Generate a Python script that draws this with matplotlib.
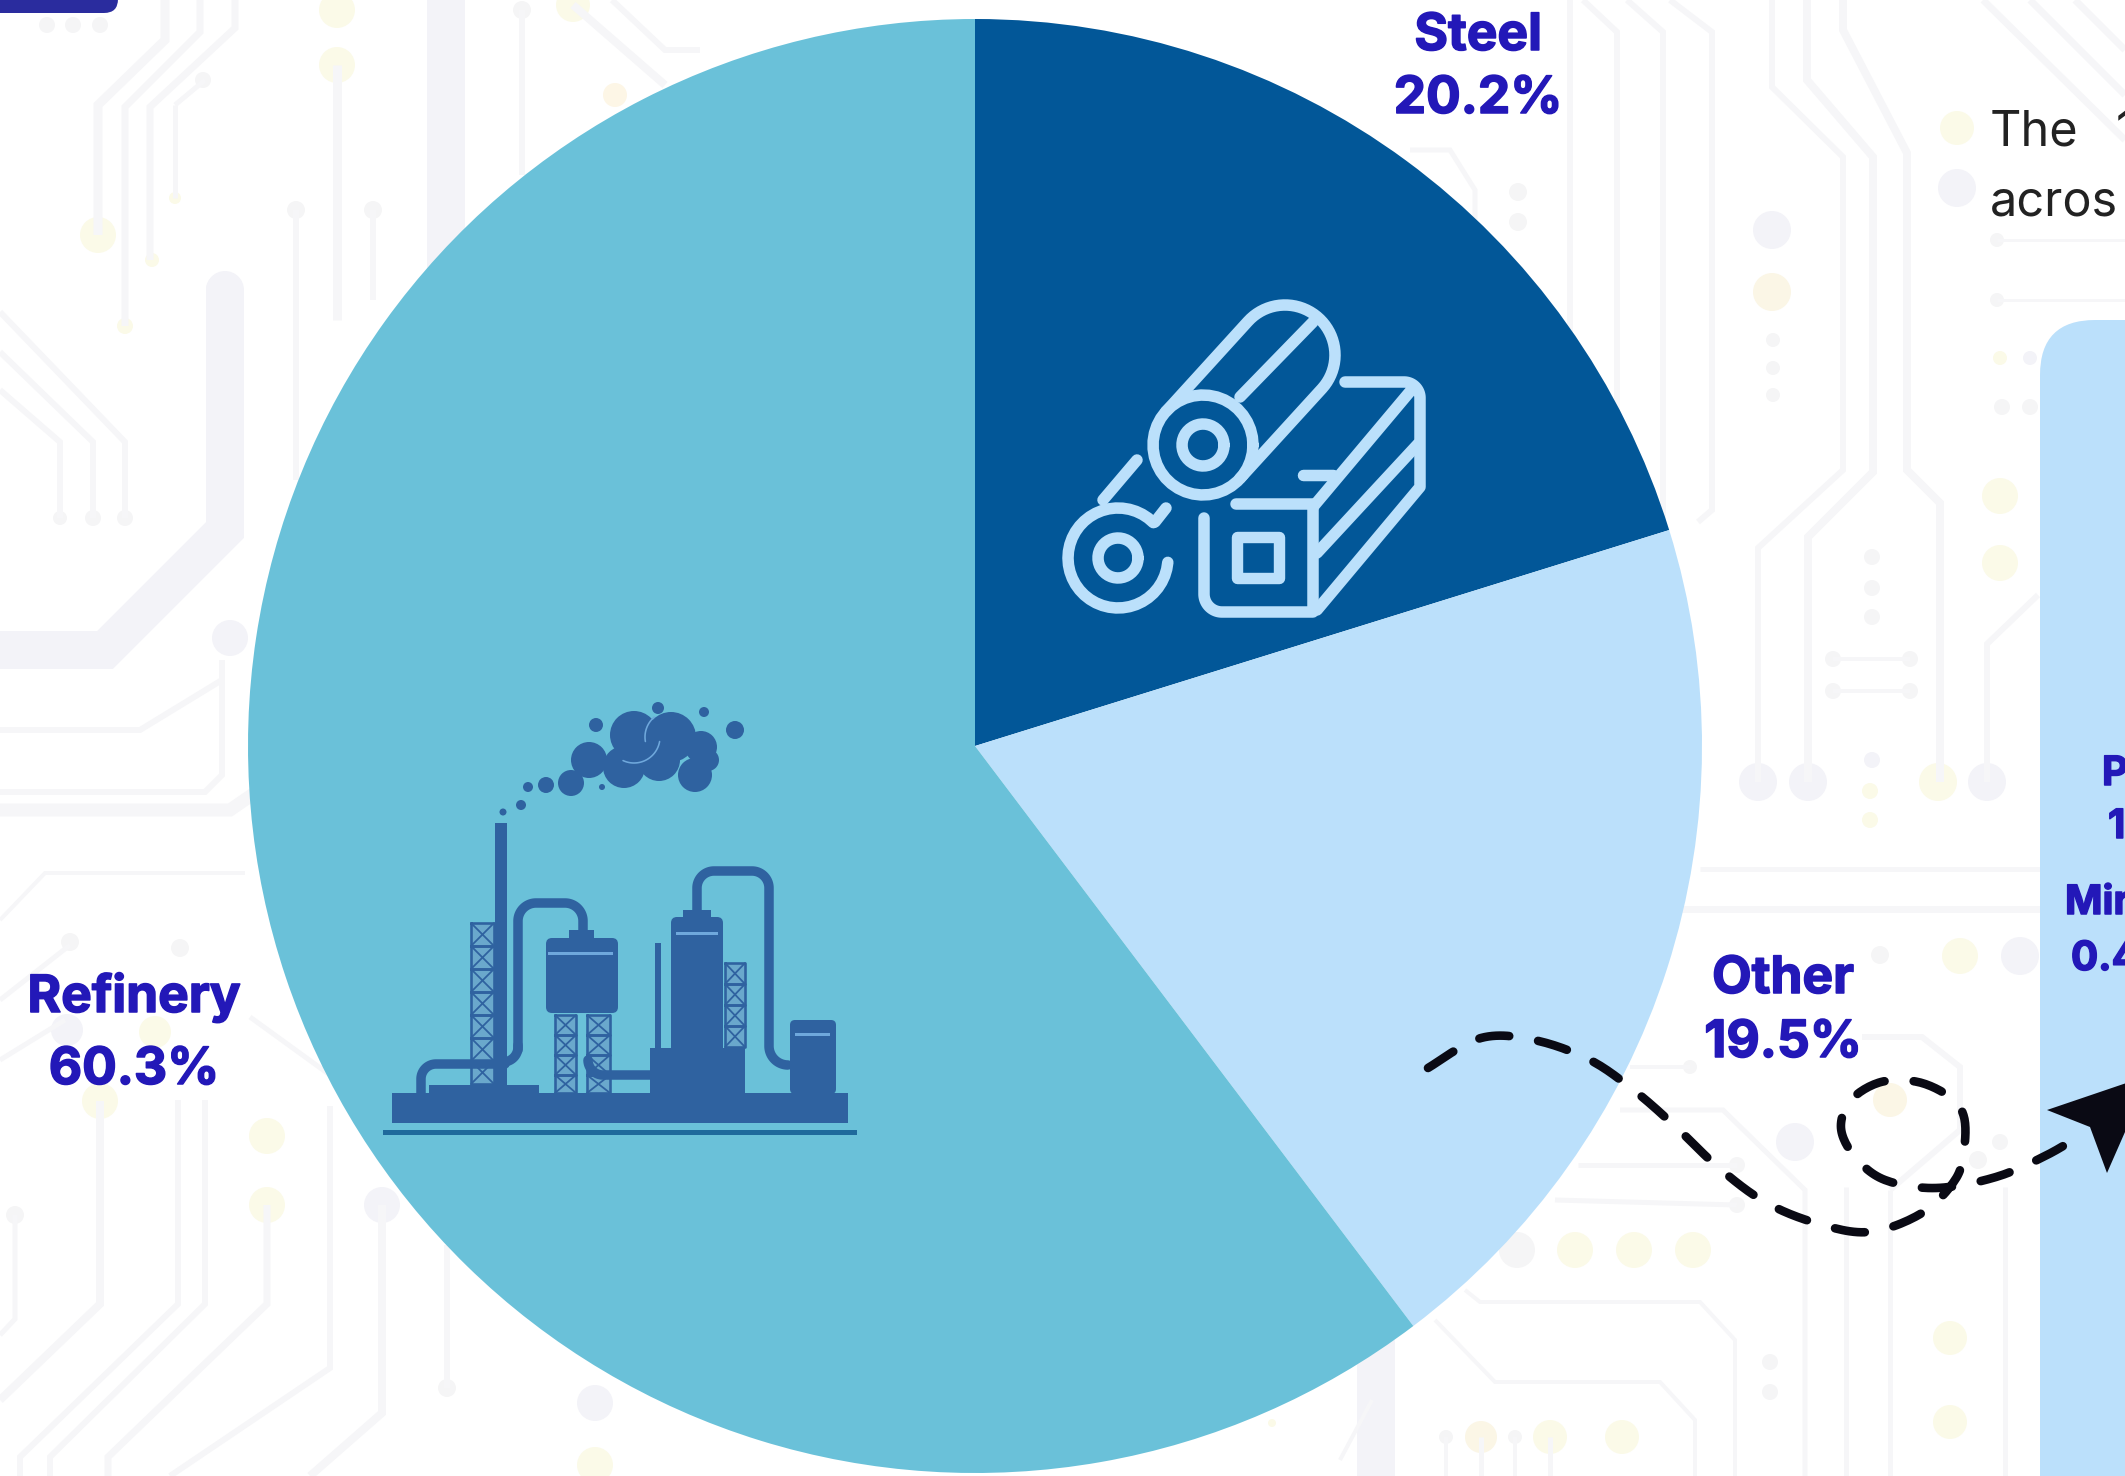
import numpy as np
import matplotlib
matplotlib.use("Agg")
import matplotlib.pyplot as plt
import matplotlib.patheffects as pe
from matplotlib.patches import Rectangle, Circle, FancyBboxPatch, Polygon

# Sector shares, clockwise from twelve o'clock
sectors = ["Steel", "Other", "Refinery"]
shares = [20.2, 19.5, 60.3]
sector_colors = ["#025798", "#BBE0FB", "#6AC1D9"]

W, H = 2125, 1476
CX, CY, R = 975, 746, 727

TRACE = "#F6F6F8"
LAV = "#F3F3F8"
YEL = "#FBFAE8"
GRY = "#F5F5F6"
LABEL = "#2318B8"
ICON_LIGHT = "#BBE0FB"
ICON_DARK = "#2F62A0"

fig = plt.figure(figsize=(W / 100, H / 100), dpi=100, facecolor="white")

bg = fig.add_axes([0, 0, 1, 1], zorder=0)
bg.set_xlim(0, W)
bg.set_ylim(H, 0)
bg.axis("off")

# Circuit-board backdrop: (width, points) polylines
traces = [
    (38, [(225, 290), (225, 530), (105, 650), (0, 650)]),
    (38, [(446, 0), (446, 300)]),
    (38, [(1376, 1340), (1376, 1476)]),
    (9, [(165, 0), (165, 40), (98, 105), (98, 235)]),
    (7, [(200, 0), (200, 32), (125, 107), (125, 326)]),
    (7, [(235, 0), (235, 28), (150, 107), (150, 260)]),
    (5, [(175, 105), (175, 198), ]),
    (5, [(175, 105), (205, 80)]),
    (6, [(0, 312), (125, 442), (125, 518)]),
    (6, [(0, 352), (93, 442), (93, 518)]),
    (6, [(0, 390), (60, 442), (60, 518)]),
    (6, [(296, 210), (296, 480)]),
    (9, [(337, 65), (337, 320)]),
    (6, [(373, 210), (373, 300)]),
    (6, [(522, 10), (522, 175)]),
    (8, [(573, 5), (665, 85)]),
    (6, [(612, 0), (665, 50), (700, 50)]),
    (6, [(0, 730), (140, 730), (222, 680)]),
    (6, [(0, 792), (205, 792), (222, 775), (222, 660)]),
    (13, [(0, 810), (230, 810), (262, 788)]),
    (4, [(0, 920), (45, 873), (245, 873)]),
    (5, [(0, 1000), (70, 945)]),
    (5, [(0, 1060), (65, 1020)]),
    (5, [(250, 1017), (330, 1075)]),
    (8, [(100, 1101), (100, 1304), (0, 1400)]),
    (6, [(178, 1100), (178, 1304), (20, 1457), (20, 1476)]),
    (6, [(205, 1100), (205, 1304), (50, 1457), (50, 1476)]),
    (7, [(267, 1205), (267, 1304), (108, 1457), (108, 1476)]),
    (6, [(330, 1106), (330, 1368), (170, 1476)]),
    (8, [(382, 1205), (382, 1413), (310, 1476)]),
    (5, [(15, 1215), (15, 1319), (0, 1335)]),
    (6, [(447, 1245), (447, 1388)]),
    (6, [(1570, 0), (1570, 400)]),
    (6, [(1583, 0), (1617, 32), (1617, 420)]),
    (6, [(1627, 0), (1663, 32), (1663, 520)]),
    (6, [(1670, 0), (1712, 32), (1712, 510), (1698, 522)]),
    (6, [(1772, 0), (1772, 87), (1843, 157), (1843, 470), (1758, 548), (1758, 782)]),
    (8, [(1807, 0), (1807, 80), (1873, 157), (1873, 472), (1808, 537), (1808, 782)]),
    (8, [(1843, 0), (1843, 30), (1907, 153), (1907, 470), (1940, 503), (1940, 782)]),
    (6, [(2038, 595), (1987, 644), (1987, 782)]),
    (4, [(1833, 659), (1910, 659)]),
    (4, [(1833, 691), (1910, 691)]),
    (5, [(1700, 869), (2040, 869)]),
    (7, [(1680, 909), (2040, 909)]),
    (3, [(1997, 240), (2125, 240)]),
    (3, [(1997, 300), (2125, 300)]),
    (7, [(1983, 0), (2125, 140)]),
    (7, [(2030, 0), (2125, 95)]),
    (7, [(2075, 0), (2125, 50)]),
    (4, [(1630, 1067), (1690, 1067)]),
    (5, [(1620, 1110), (1723, 1110), (1805, 1190), (1805, 1476)]),
    (5, [(1578, 1165), (1737, 1165)]),
    (5, [(1555, 1200), (1737, 1205)]),
    (5, [(1846, 1187), (1846, 1476)]),
    (5, [(1890, 1190), (1890, 1476)]),
    (5, [(2005, 1187), (2005, 1476)]),
    (6, [(1862, 1037), (1922, 1037), (1960, 1067), (1960, 1130), (1890, 1190)]),
    (4, [(1465, 1290), (1480, 1302), (1700, 1302), (1735, 1340), (1735, 1476)]),
    (4, [(1435, 1320), (1495, 1382), (1660, 1382), (1695, 1420), (1695, 1476)]),
    (5, [(1481, 1437), (1481, 1476)]),
    (5, [(1550, 1437), (1550, 1476)]),
    (4, [(1446, 1437), (1446, 1476)]),
    (4, [(1515, 1437), (1515, 1476)]),
    (5, [(1410, 150), (1450, 150), (1475, 190), (1475, 250)]),
    (4, [(1372, 1400), (1340, 1460)]),
]
for lw, pts in traces:
    xs, ys = zip(*pts)
    bg.plot(xs, ys, color=LAV if lw > 20 else TRACE, lw=lw * 0.72,
            solid_joinstyle="miter", solid_capstyle="butt")

pads = [
    (98, 235, 18, YEL), (125, 326, 8, YEL), (152, 260, 7, YEL), (175, 198, 6, YEL),
    (225, 290, 19, LAV), (226, 292, 7, YEL), (230, 638, 18, LAV), (203, 80, 8, GRY), (47, 25, 8, GRY),
    (73, 25, 8, GRY), (100, 25, 8, GRY), (60, 518, 7, GRY), (93, 518, 8, GRY),
    (125, 518, 8, GRY), (337, 10, 18, YEL), (337, 65, 18, YEL), (296, 210, 9, GRY),
    (373, 210, 9, GRY), (222, 290, 16, LAV), (522, 10, 9, GRY), (573, 5, 17, YEL),
    (615, 95, 12, "#FDF6E6"),
    (70, 942, 9, GRY), (180, 948, 9, GRY), (155, 1032, 16, YEL), (67, 1030, 16, LAV),
    (100, 1101, 18, YEL), (267, 1136, 18, YEL), (267, 1205, 18, YEL), (382, 1205, 18, LAV),
    (15, 1215, 9, GRY), (447, 1388, 9, GRY), (595, 1403, 18, LAV), (595, 1465, 18, YEL),
    (1518, 192, 9, GRY), (1518, 222, 9, GRY), (1772, 230, 19, LAV), (1772, 292, 19, "#FBF6E6"),
    (1773, 340, 7, GRY), (1773, 368, 7, GRY), (1773, 395, 7, GRY),
    (1872, 557, 8, GRY), (1872, 588, 8, GRY), (1872, 617, 8, GRY),
    (1833, 659, 8, GRY), (1910, 659, 8, GRY), (1833, 691, 8, GRY), (1910, 691, 8, GRY),
    (1872, 760, 8, LAV), (1870, 791, 8, YEL), (1870, 820, 8, YEL),
    (1758, 782, 19, LAV), (1808, 782, 19, LAV), (1938, 782, 19, YEL), (1987, 782, 19, LAV),
    (2000, 496, 18, YEL), (2000, 563, 18, YEL), (2000, 358, 7, YEL), (2030, 358, 7, LAV),
    (2002, 407, 8, GRY), (2030, 407, 8, GRY), (1957, 128, 17, YEL), (1957, 188, 19, LAV),
    (1997, 240, 7, GRY), (1997, 300, 7, GRY), (1880, 955, 9, GRY), (1960, 956, 18, YEL),
    (2020, 956, 19, LAV), (1795, 1142, 19, LAV), (1890, 1100, 17, "#FBF6E6"), (2000, 1142, 8, GRY),
    (1978, 1160, 9, GRY), (1737, 1165, 8, GRY), (1737, 1205, 8, GRY), (1690, 1067, 7, GRY),
    (1517, 1250, 18, GRY), (1575, 1250, 18, YEL), (1634, 1250, 18, YEL), (1693, 1250, 18, YEL),
    (1770, 1362, 8, GRY), (1770, 1392, 8, GRY), (1950, 1338, 17, YEL), (1950, 1422, 17, YEL),
    (1446, 1437, 7, GRY), (1481, 1437, 16, "#FBF6E6"), (1515, 1437, 7, GRY), (1550, 1437, 17, YEL),
    (1622, 1437, 17, YEL), (1272, 1423, 4, YEL),
]
for x, y, r, c in pads:
    bg.add_patch(Circle((x, y), r, color=c, lw=0))

# Side panel running off the right edge and the dark tab in the corner
bg.add_patch(FancyBboxPatch((2040, 320), 300, 1400, boxstyle="round,pad=0,rounding_size=55",
                            fc="#BBE0FB", ec="none", zorder=3))
bg.add_patch(FancyBboxPatch((-60, -60), 178, 73, boxstyle="round,pad=0,rounding_size=14",
                            fc="#2A2C9E", ec="none", zorder=3))

# The pie itself
pie_ax = fig.add_axes([(CX - R) / W, (H - CY - R) / H, 2 * R / W, 2 * R / H], zorder=1)
pie_ax.pie(shares, colors=sector_colors, startangle=90, counterclock=False, radius=1,
           wedgeprops={"linewidth": 0})
pie_ax.set_xlim(-1, 1)
pie_ax.set_ylim(-1, 1)

ov = fig.add_axes([0, 0, 1, 1], zorder=2)
ov.set_xlim(0, W)
ov.set_ylim(H, 0)
ov.axis("off")
ov.patch.set_alpha(0)


def arc_pts(cx, cy, r, a0, a1, n=40):
    t = np.radians(np.linspace(a0, a1, n))
    return np.c_[cx + r * np.cos(t), cy + r * np.sin(t)]


def stroke(pts, color=ICON_LIGHT, width=11.5, cap="round", zorder=5):
    pts = np.asarray(pts, dtype=float)
    ov.plot(pts[:, 0], pts[:, 1], color=color, lw=width * 0.72, solid_capstyle=cap,
            solid_joinstyle="round", zorder=zorder)


# Steel rolls and billet icon
stroke(arc_pts(1203, 445, 50, 0, 360))
stroke(arc_pts(1203, 445, 21, 0, 360))
far = (1285, 355)
stroke(np.vstack([[(1166, 411.5)], arc_pts(far[0], far[1], 50, -138, 42), [(1240, 478.5)]]))
stroke([(1240, 397), (1313, 322)])
stroke(arc_pts(1118, 558, 50, 5, 315))
stroke(arc_pts(1118, 558, 20, 0, 360))
stroke([(1137, 460), (1103, 500)])
stroke([(1155, 522), (1166, 508)])
stroke(np.vstack([[(1204, 518)], arc_pts(1222, 594, 18, 180, 90), [(1313, 612), (1313, 504), (1236, 504)]]))
ov.add_patch(Rectangle((1237, 537), 42, 41, fc="none", ec=ICON_LIGHT, lw=8.2, joinstyle="round", zorder=5))
stroke(np.vstack([[(1317, 610), (1420, 487), (1420, 398)], arc_pts(1404, 398, 16, 0, -90), [(1345, 382)]]))
stroke([(1313, 507), (1413, 388)])
stroke([(1317, 553), (1418, 444)])
stroke([(1303, 475), (1333, 475)])

# Refinery silhouette
def block(x0, y0, x1, y1, color=ICON_DARK, zorder=5):
    ov.add_patch(Rectangle((x0, y0), x1 - x0, y1 - y0, fc=color, ec="none", zorder=zorder))


def rounded(x0, y0, x1, y1, rad):
    ov.add_patch(FancyBboxPatch((x0, y0), x1 - x0, y1 - y0,
                                boxstyle=f"round,pad=0,rounding_size={rad}",
                                fc=ICON_DARK, ec="none", zorder=5))


def lattice(x0, y0, x1, y1, cell):
    y = y0
    ov.add_patch(Rectangle((x0, y0), x1 - x0, y1 - y0, fc="#6AA8CC", ec="none", zorder=4))
    while y < y1 - 1:
        y2 = min(y + cell, y1)
        box = np.array([(x0, y), (x1, y), (x1, y2), (x0, y2), (x0, y)])
        stroke(box, ICON_DARK, 2.6, zorder=4.5)
        stroke([(x0, y), (x1, y2)], ICON_DARK, 1.8, zorder=4.5)
        stroke([(x1, y), (x0, y2)], ICON_DARK, 1.8, zorder=4.5)
        y += cell


block(392, 1093, 848, 1123)
block(383, 1130, 857, 1135, "#1F6A9C")
block(495, 823, 507, 1093)
block(429, 1085, 539, 1094)
lattice(471, 923, 494, 1085, 23)
rounded(546, 938, 618, 1013, 6)
block(569, 930, 594, 940)
block(548, 952, 613, 954.5, "#6FA8DC", zorder=6)
lattice(555, 1015, 576, 1093, 20)
lattice(587, 1015, 610, 1093, 20)
rounded(671, 917, 723, 1093, 6)
block(683, 910, 711, 920)
block(676, 932, 718, 934.5, "#6FA8DC", zorder=6)
block(655, 943, 661, 1048)
block(650, 1048, 745, 1094)
lattice(725, 963, 745, 1047, 21)
rounded(790, 1020, 836, 1094, 5)
block(795, 1033, 830, 1035.5, "#6FA8DC", zorder=6)
stroke(np.vstack([[(518, 1050)], arc_pts(536, 921, 18, 180, 270),
                  arc_pts(565, 921, 18, 270, 360), [(583, 932)]]), ICON_DARK, 9.5)
stroke(np.vstack([[(505, 1064), (436, 1064)], arc_pts(436, 1079, 15, 270, 180), [(421, 1093)]]), ICON_DARK, 9.5)
stroke(np.vstack([[(518, 1045)], arc_pts(503, 1047, 15, 0, 90)]), ICON_DARK, 9.5)
stroke(np.vstack([[(697, 912)], arc_pts(714, 888, 17, 180, 270), arc_pts(752, 888, 17, 270, 360),
                  arc_pts(788, 1046, 19, 180, 90)]), ICON_DARK, 9.5)
stroke(np.vstack([arc_pts(603, 1060, 15, 180, 90), [(650, 1075)]]), ICON_DARK, 9.5)

smoke = [
    (634, 735, 24), (671, 737, 25), (589, 760, 18), (624, 767, 21), (659, 760, 21),
    (695, 775, 17), (701, 747, 16), (708, 760, 11), (571, 783, 13), (546, 785, 8),
    (528, 787, 5), (521, 805, 5), (503, 812, 3.5), (596, 725, 7), (735, 730, 9),
    (704, 712, 5), (658, 708, 6), (602, 787, 3),
]
for x, y, r in smoke:
    ov.add_patch(Circle((x, y), r, fc=ICON_DARK, ec="none", zorder=5))
stroke(arc_pts(634, 737, 26, 10, 115), "#6FA8DC", 1.6, zorder=6)
stroke(arc_pts(671, 737, 26, 170, 230), "#6FA8DC", 1.6, zorder=6)

# Dashed looping connector with its arrowhead
knots = np.array([
    (1428, 1068), (1481, 1038), (1534, 1040), (1590, 1060), (1636, 1092), (1677, 1128),
    (1719, 1168), (1765, 1202), (1816, 1223), (1869, 1232), (1922, 1213), (1955, 1180),
    (1964, 1150), (1964, 1117), (1950, 1097), (1918, 1082), (1881, 1082), (1851, 1100),
    (1841, 1128), (1855, 1157), (1885, 1180), (1936, 1188), (1996, 1177), (2047, 1155),
    (2084, 1133),
], dtype=float)
path = []
p = np.vstack([knots[0], knots, knots[-1]])
for i in range(1, len(p) - 2):
    for t in np.linspace(0, 1, 14, endpoint=False):
        path.append(0.5 * (2 * p[i] + (p[i + 1] - p[i - 1]) * t
                           + (2 * p[i - 1] - 5 * p[i] + 4 * p[i + 1] - p[i + 2]) * t ** 2
                           + (3 * p[i] - p[i - 1] - 3 * p[i + 1] + p[i + 2]) * t ** 3))
path.append(p[-2])
path = np.array(path)
ov.plot(path[:, 0], path[:, 1], color="#0A0A14", lw=6.2, linestyle=(0, (3.5, 3.4)),
        dash_capstyle="round", zorder=6)
ov.add_patch(Polygon([(2047, 1110), (2150, 1075), (2107, 1173), (2090, 1127)], fc="#0A0A14",
                     ec="none", zorder=7))

# Sector labels, built from the share values
heavier = [pe.withStroke(linewidth=1.1, foreground=LABEL)]
label_font = dict(family="Inter", weight="bold", color=LABEL, zorder=8, ha="center", va="baseline",
                  path_effects=heavier)
label_spots = {
    "Steel": (1478, 50, 113),
    "Other": (1783, 993, 1057),
    "Refinery": (134, 1012, 1084),
}
for name, share in zip(sectors, shares):
    x, y_name, y_value = label_spots[name]
    ov.text(x, y_name, name, fontsize=37, **label_font)
    ov.text(x, y_value, f"{share}%", fontsize=37, **label_font)

# Panel captions running off the right edge
small_font = dict(family="Inter", weight="bold", color=LABEL, zorder=8, ha="left", va="baseline",
                  fontsize=29, clip_on=True, path_effects=heavier)
ov.text(2102, 785, "P", **small_font)
ov.text(2108, 838, "1", **small_font)
ov.text(2065, 914, "Mir", **small_font)
ov.text(2071, 970, "0.4", **small_font)

body_font = dict(family="Inter", weight="normal", color="#222222",
                 fontsize=35, ha="left", va="baseline", clip_on=True, zorder=8)
ov.text(1990, 146, "The", **body_font)
ov.text(2116, 146, "1", **body_font)
ov.text(1990, 215, "acros", **body_font)

fig.savefig("out.png", dpi=100)
